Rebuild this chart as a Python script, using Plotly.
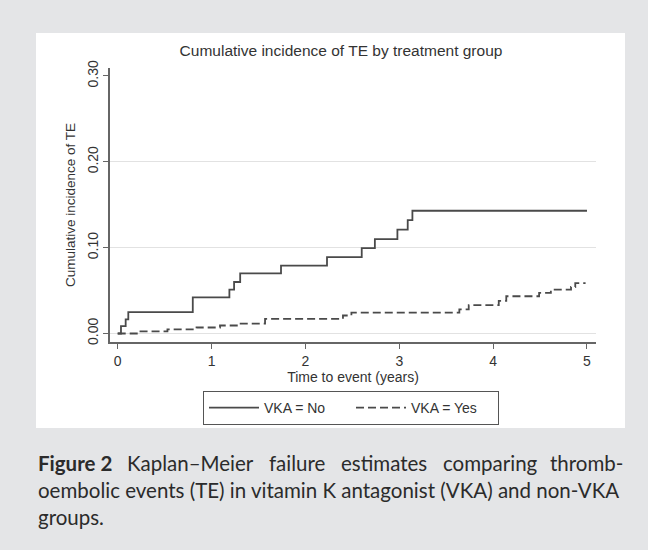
import plotly.graph_objects as go

# Kaplan-Meier failure estimates
no_time = [0, 0.035, 0.085, 0.113, 0.80, 1.19, 1.24, 1.305, 1.74, 2.23, 2.60, 2.74, 2.98, 3.09, 3.14, 5.0]
no_cum = [0, 0.0085, 0.0165, 0.025, 0.042, 0.051, 0.060, 0.070, 0.079, 0.089, 0.0995, 0.110, 0.121, 0.132, 0.143, 0.143]

yes_time = [0, 0.22, 0.53, 0.84, 1.09, 1.30, 1.57, 2.40, 2.49, 3.64, 3.74, 4.06, 4.14, 4.49, 4.615, 4.83, 4.875, 4.985]
yes_cum = [0, 0.0025, 0.0047, 0.007, 0.0093, 0.0116, 0.0170, 0.021, 0.0244, 0.028, 0.033, 0.038, 0.0434, 0.0473,
           0.0512, 0.0542, 0.0588, 0.0588]

series_names = ['VKA = No', 'VKA = Yes']
x_ticks = [0, 1, 2, 3, 4, 5]
y_ticks = [0, 0.1, 0.2, 0.3]
y_tick_text = ['0.00', '0.10', '0.20', '0.30']

title = 'Cumulative incidence of TE by treatment group'
x_title = 'Time to event (years)'
y_title = 'Cumulative incidence of TE'

caption_line1 = ['<b>Figure 2</b>', 'Kaplan\u2013Meier', 'failure', 'estimates', 'comparing', 'thromb-']
caption_line2 = 'oembolic events (TE) in vitamin K antagonist (VKA) and non-VKA'
caption_line3 = 'groups.'

W, H = 648, 550
L, R, T, B = 110, 52, 68, 208   # plot area margins in px
FONT = 'Liberation Sans, Arial, sans-serif'
CAP_FONT = 'Lato, sans-serif'
INK = '#4a4a4a'
BG = '#e4e5e7'


def px_x(px):
    return (px - L) / (W - L - R)


def px_y(py):
    return (H - B - py) / (H - T - B)


fig = go.Figure()

fig.add_scatter(
    x=no_time, y=no_cum, name=series_names[0],
    mode='lines', line=dict(shape='hv', color=INK, width=1.8),
)
fig.add_scatter(
    x=yes_time, y=yes_cum, name=series_names[1],
    mode='lines', line=dict(shape='hv', color=INK, width=1.8, dash='8px,4px'),
)

# white panel behind the graph
shapes = [dict(
    type='rect', xref='paper', yref='paper', layer='below',
    x0=px_x(36), x1=px_x(625), y0=px_y(428), y1=px_y(33),
    fillcolor='white', line=dict(width=0),
)]

annotations = []
# caption, first line spread out like justified text (last word flush right)
word_x = [36, 125, 267, 339, 441, 625]
for i, (word, wx) in enumerate(zip(caption_line1, word_x)):
    annotations.append(dict(
        text=word, xref='paper', yref='paper', x=px_x(wx), y=px_y(463),
        xanchor='right' if i == len(word_x) - 1 else 'left', yanchor='middle',
        showarrow=False, font=dict(family=CAP_FONT, size=20.5, color='#2b2b2b'),
    ))
for line, ly in [(caption_line2, 490), (caption_line3, 517)]:
    annotations.append(dict(
        text=line, xref='paper', yref='paper', x=px_x(36), y=px_y(ly),
        xanchor='left', yanchor='middle', showarrow=False,
        font=dict(family=CAP_FONT, size=20.5, color='#2b2b2b'),
    ))

fig.update_layout(
    width=W, height=H,
    margin=dict(l=L, r=R, t=T, b=B, pad=0),
    paper_bgcolor=BG,
    plot_bgcolor='white',
    font=dict(family=FONT, size=14, color='#333333'),
    title=dict(text=title, x=341 / W, xref='container', xanchor='center',
               y=1 - 51 / H, yref='container', yanchor='middle',
               font=dict(size=15.5, color='#333333')),
    showlegend=True,
    legend=dict(
        orientation='h', xref='paper', yref='paper',
        x=px_x(351), xanchor='center', y=px_y(391), yanchor='top',
        bgcolor='white', bordercolor='#555555', borderwidth=1,
        font=dict(size=14), entrywidth=82, entrywidthmode='pixels',
        itemwidth=50, tracegroupgap=0,
    ),
    shapes=shapes,
    annotations=annotations,
)

fig.update_xaxes(
    range=[-0.082, 5.096], tickvals=x_ticks,
    showline=True, linecolor='#666666', linewidth=1.5,
    ticks='outside', ticklen=5, tickcolor='#666666',
    showgrid=False, zeroline=False,
    title=dict(text=x_title, standoff=4, font=dict(size=14)),
)
fig.update_yaxes(
    range=[-0.0099, 0.3093], tickvals=y_ticks, ticktext=y_tick_text, tickangle=-90,
    showline=True, linecolor='#666666', linewidth=1.5,
    ticks='outside', ticklen=5, tickcolor='#666666',
    showgrid=False, zeroline=False,
    title=dict(text=y_title, standoff=6, font=dict(size=13.5)),
)

# light horizontal grid at 0, 0.1, 0.2 (no line at the top tick)
fig.add_scatter(x=[None], y=[None], showlegend=False, yaxis='y2', hoverinfo='skip')
fig.update_layout(yaxis2=dict(
    overlaying='y', range=[-0.0099, 0.3093], tickvals=y_ticks[:-1],
    showticklabels=False, showgrid=True, gridcolor='#e2e2e2', gridwidth=1,
    zeroline=False, showline=False, layer='below traces',
))

# drop the page's default body margin so the figure fills the window
fig.write_html('out.html', config={'displayModeBar': False},
               post_script="document.body.style.margin='0';"
                           "document.body.style.background='%s';" % BG)
